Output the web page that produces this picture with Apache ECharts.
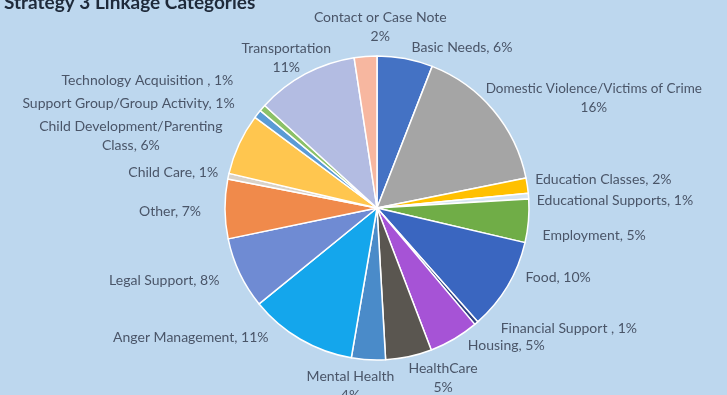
<!DOCTYPE html>
<html>
<head>
<meta charset="utf-8">
<script src="https://cdn.jsdelivr.net/npm/echarts@6/dist/echarts.min.js"></script>
<style>
html,body{margin:0;padding:0;background:#BDD7EE;}
#c{width:727px;height:395px;}
</style>
</head>
<body>
<div id="c"></div>
<script>
var categories = [
  "Basic Needs", "Domestic Violence/Victims of Crime", "Education Classes", "Educational Supports",
  "Employment", "Food", "Financial Support", "Housing", "HealthCare", "Mental Health",
  "Anger Management", "Legal Support", "Other", "Child Care", "Child Development/Parenting Class",
  "Support Group/Group Activity", "Technology Acquisition", "Transportation", "Contact or Case Note"
];
var values = [5.9, 15.9, 1.6, 0.6, 4.6, 9.8, 0.4, 5.3, 4.9, 3.6, 11.4, 7.6, 6.3, 0.6, 6.5, 0.9, 0.7, 10.8, 2.4];
var labelTexts = [
  "Basic Needs, 6%", "Domestic Violence/Victims of Crime\n16%", "Education Classes, 2%", "Educational Supports, 1%",
  "Employment, 5%", "Food, 10%", "Financial Support , 1%", "Housing, 5%", "HealthCare\n5%", "Mental Health\n4%",
  "Anger Management, 11%", "Legal Support, 8%", "Other, 7%", "Child Care, 1%", "Child Development/Parenting\nClass, 6%",
  "Support Group/Group Activity, 1%", "Technology Acquisition , 1%", "Transportation\n11%", "Contact or Case Note\n2%"
];
var colors = [
  "#4472C4", "#A5A5A5", "#FFC000", "#D6E4F2", "#70AD47", "#3A66C0", "#2E3F7F", "#A653D6",
  "#5A5650", "#4A8BC9", "#14A6EC", "#6F8BD3", "#F08A4B", "#D9D2C8", "#FFC64F",
  "#5B9BD5", "#8CC168", "#B3BCE2", "#F7B7A0"
];
// label styling (leader lines hidden): lengths and small nudges
var labelLineLengths = [8, 0, 8, 8, 8, 8, 8, 8, 22, 34, 14, 18, 18, 10, 16, 22, 40, 22, 30];
var labelDx = [0, -12, 0, 0, 6, 7, 8, -8, -10, -11, 0, 0, -6, 0, 0, 0, 0, 13, 22];
var labelDy = [-3, -12, -5, 0, 14, -12, 0, 0, 0, 8, 1, 9, 6, 0, 0, 0, -7, -4, 0];
var centeredLabels = [9, 17, 18];

var textColor = '#4A5568';
var data = categories.map(function (n, i) {
  var lbl = {
    formatter: labelTexts[i].split('\n').map(function (s) { return '{c|' + s + '}'; }).join('\n')
  };
  if (i === 1) {
    lbl.overflow = 'none';
    lbl.distanceToLabelLine = 0;
    lbl.rich = { c: { align: 'center', fontFamily: 'Lato', fontSize: 13.5, color: textColor, lineHeight: 19 } };
  }
  return {
    name: n, value: values[i],
    itemStyle: { color: colors[i] },
    label: lbl,
    labelLine: { length: labelLineLengths[i], length2: 0 }
  };
});

var chart = echarts.init(document.getElementById('c'));
chart.setOption({
  backgroundColor: '#BDD7EE',
  animation: false,
  title: {
    text: 'Strategy 3 Linkage Categories',
    left: -1, top: -12,
    textStyle: { fontFamily: 'Lato', fontSize: 19, fontWeight: 'bold', color: '#1F2A3A' }
  },
  series: [{
    type: 'pie',
    center: [377, 208],
    radius: [0, 152],
    startAngle: 90,
    clockwise: true,
    data: data,
    itemStyle: { borderColor: '#FFFFFF', borderWidth: 1.5 },
    label: {
      show: true,
      position: 'outside',
      overflow: 'none',
      fontFamily: 'Lato',
      fontSize: 14,
      color: textColor,
      rich: {
        c: { align: 'center', fontFamily: 'Lato', fontSize: 14, color: textColor, lineHeight: 19 }
      }
    },
    labelLine: { show: false, length: 8, length2: 0 },
    avoidLabelOverlap: true,
    labelLayout: function (p) {
      var i = p.dataIndex;
      var r = { dx: labelDx[i], dy: labelDy[i] };
      if (centeredLabels.indexOf(i) >= 0) { r.align = 'center'; }
      return r;
    }
  }]
});
</script>
</body>
</html>
